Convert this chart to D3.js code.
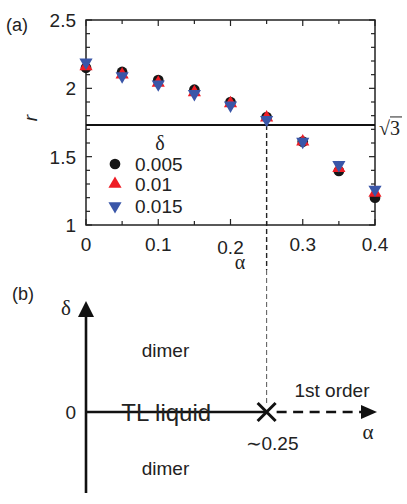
<!DOCTYPE html>
<html>
<head>
<meta charset="utf-8">
<script src="https://cdn.jsdelivr.net/npm/d3@7"></script>
<style>
  body { margin: 0; background: #fff; }
  svg { display: block; }
  text { font-family: "Liberation Sans", Arial, sans-serif; fill: #222; }
  .serif { font-family: "Liberation Serif", "DejaVu Serif", serif; }
</style>
</head>
<body>
<div id="chart"></div>
<script>
// values
const alphas = [0, 0.05, 0.1, 0.15, 0.2, 0.25, 0.3, 0.35, 0.4];
const rDelta005 = [2.15, 2.12, 2.06, 1.99, 1.90, 1.79, 1.61, 1.395, 1.20];
const rDelta01 = [2.16, 2.10, 2.04, 1.97, 1.89, 1.785, 1.61, 1.415, 1.235];
const rDelta015 = [2.19, 2.09, 2.03, 1.96, 1.875, 1.77, 1.61, 1.44, 1.26];
const deltaLabels = ["0.005", "0.01", "0.015"];
const xTicks = [0, 0.1, 0.2, 0.3, 0.4];
const yTicks = [1, 1.5, 2, 2.5];
const alphaC = 0.25;

const W = 407, H = 504;
const svg = d3.select("#chart").append("svg").attr("width", W).attr("height", H);

// ---------- panel (a) ----------
const x = d3.scaleLinear().domain([0, 0.4]).range([86, 375]);
const y = d3.scaleLinear().domain([1, 2.5]).range([225, 20]);

const ink = "#222";

// frame
svg.append("rect")
  .attr("x", x(0)).attr("y", y(2.5))
  .attr("width", x(0.4) - x(0)).attr("height", y(1) - y(2.5))
  .attr("fill", "none").attr("stroke", ink).attr("stroke-width", 1.5);

// inner ticks
const xt = d3.range(0, 0.4001, 0.05);
const yt = d3.range(1, 2.5001, 0.1);
const tk = svg.append("g").attr("stroke", ink).attr("stroke-width", 1.2);
xt.forEach((v, i) => {
  const len = i % 2 === 0 ? 6 : 4;
  tk.append("line").attr("x1", x(v)).attr("x2", x(v)).attr("y1", y(1)).attr("y2", y(1) - len);
  tk.append("line").attr("x1", x(v)).attr("x2", x(v)).attr("y1", y(2.5)).attr("y2", y(2.5) + len);
});
yt.forEach((v, i) => {
  const len = i % 5 === 0 ? 6 : 4;
  tk.append("line").attr("y1", y(v)).attr("y2", y(v)).attr("x1", x(0)).attr("x2", x(0) + len);
  tk.append("line").attr("y1", y(v)).attr("y2", y(v)).attr("x1", x(0.4)).attr("x2", x(0.4) - len);
});

// tick labels
svg.selectAll(".xl").data(xTicks).join("text")
  .attr("x", d => x(d)).attr("y", d => d === 0.2 ? 254 : 251)
  .attr("text-anchor", "middle").attr("font-size", 19)
  .text(d => d === 0 ? "0" : d3.format(".1f")(d));
svg.selectAll(".yl").data(yTicks).join("text")
  .attr("x", 76).attr("y", d => y(d) + 7)
  .attr("text-anchor", "end").attr("font-size", 19)
  .text(d => d);

svg.append("text").attr("x", 6).attr("y", 31).attr("font-size", 18).text("(a)");
svg.append("text").attr("class", "serif").attr("x", 240).attr("y", 269)
  .attr("text-anchor", "middle").attr("font-size", 20).text("α");
svg.append("text").attr("transform", "translate(37,118) rotate(-90)")
  .attr("text-anchor", "middle").attr("font-size", 19).attr("font-style", "italic").text("r");

// sqrt(3) line
const s3 = Math.sqrt(3);
svg.append("line").attr("x1", x(0)).attr("x2", x(0.4)).attr("y1", y(s3)).attr("y2", y(s3))
  .attr("stroke", "#111").attr("stroke-width", 2);
svg.append("text").attr("class", "serif").attr("x", 379).attr("y", y(s3) + 10)
  .attr("font-size", 20).text("√3");
svg.append("line").attr("x1", 390).attr("x2", 402).attr("y1", y(s3) - 8).attr("y2", y(s3) - 8)
  .attr("stroke", "#222").attr("stroke-width", 1);

// dashed guide from alpha_c
svg.append("line").attr("x1", x(alphaC)).attr("x2", x(alphaC))
  .attr("y1", y(s3)).attr("y2", 270)
  .attr("stroke", "#222").attr("stroke-width", 1.4).attr("stroke-dasharray", "5,3");
svg.append("line").attr("x1", x(alphaC)).attr("x2", x(alphaC))
  .attr("y1", 270).attr("y2", 403)
  .attr("stroke", "#555").attr("stroke-width", 1).attr("stroke-dasharray", "5,3");

// markers
const series = [
  { vals: rDelta005, color: "#161616", sym: d3.symbolCircle, size: 90, rot: 0 },
  { vals: rDelta01, color: "#ee1c25", sym: d3.symbolTriangle, size: 75, rot: 0 },
  { vals: rDelta015, color: "#3a56a8", sym: d3.symbolTriangle, size: 75, rot: 180 }
];
series.forEach(s => {
  svg.append("g").selectAll("path").data(alphas).join("path")
    .attr("d", d3.symbol().type(s.sym).size(s.size))
    .attr("transform", (a, i) => `translate(${x(a)},${y(s.vals[i])}) rotate(${s.rot})`)
    .attr("fill", s.color);
});

// legend
svg.append("text").attr("class", "serif").attr("x", 160).attr("y", 150)
  .attr("text-anchor", "middle").attr("font-size", 20).text("δ");
const legY = [164, 184, 206];
series.forEach((s, i) => {
  svg.append("path").attr("d", d3.symbol().type(s.sym).size(s.size))
    .attr("transform", `translate(115,${legY[i]}) rotate(${s.rot})`).attr("fill", s.color);
  svg.append("text").attr("x", 135).attr("y", legY[i] + 7).attr("font-size", 19).text(deltaLabels[i]);
});

// ---------- panel (b) ----------
const xb = x.copy().domain([0, 0.4]);
const yb = d3.scaleLinear().domain([-0.73, 1]).range([493, 301]);
const thick = 2.6;

svg.append("text").attr("x", 12).attr("y", 300).attr("font-size", 18).text("(b)");

// delta axis
svg.append("line").attr("x1", xb(0)).attr("x2", xb(0)).attr("y1", yb(-0.73)).attr("y2", yb(1) + 12)
  .attr("stroke", "#111").attr("stroke-width", thick);
svg.append("path")
  .attr("d", `M${xb(0)},${yb(1)} L${xb(0) - 8},${yb(1) + 16} L${xb(0) + 8},${yb(1) + 16} Z`)
  .attr("fill", "#111");
svg.append("text").attr("class", "serif").attr("x", 66).attr("y", 315)
  .attr("text-anchor", "middle").attr("font-size", 21).text("δ");

// alpha axis: solid up to alpha_c, dashed after
svg.append("line").attr("x1", xb(0)).attr("x2", xb(alphaC)).attr("y1", yb(0)).attr("y2", yb(0))
  .attr("stroke", "#111").attr("stroke-width", thick);
svg.append("line").attr("x1", xb(alphaC) + 10).attr("x2", 363).attr("y1", yb(0)).attr("y2", yb(0))
  .attr("stroke", "#111").attr("stroke-width", thick).attr("stroke-dasharray", "10,6.5");
svg.append("path")
  .attr("d", `M377,${yb(0)} L361,${yb(0) - 7} L361,${yb(0) + 7} Z`)
  .attr("fill", "#111");
svg.append("text").attr("class", "serif").attr("x", 368).attr("y", 439)
  .attr("text-anchor", "middle").attr("font-size", 21).text("α");

// critical point X
const cx = xb(alphaC), cy = yb(0), a = 9;
svg.append("path")
  .attr("d", `M${cx - a},${cy - a} L${cx + a},${cy + a} M${cx - a},${cy + a} L${cx + a},${cy - a}`)
  .attr("stroke", "#111").attr("stroke-width", 3);

svg.append("text").attr("x", 76).attr("y", yb(0) + 7).attr("text-anchor", "end")
  .attr("font-size", 19).text("0");
svg.append("text").attr("x", xb(0.11)).attr("y", yb(0.5) + 1).attr("text-anchor", "middle")
  .attr("font-size", 19).text("dimer");
svg.append("text").attr("x", xb(0.11)).attr("y", yb(-0.57)).attr("text-anchor", "middle")
  .attr("font-size", 19).text("dimer");
svg.append("text").attr("x", xb(0.111)).attr("y", yb(0) + 9).attr("text-anchor", "middle")
  .attr("font-size", 24).text("TL liquid");
svg.append("text").attr("x", 332).attr("y", 397).attr("text-anchor", "middle")
  .attr("font-size", 19).text("1st order");
svg.append("text").attr("x", 272).attr("y", 450).attr("text-anchor", "middle")
  .attr("font-size", 19).text("∼0.25");
</script>
</body>
</html>
